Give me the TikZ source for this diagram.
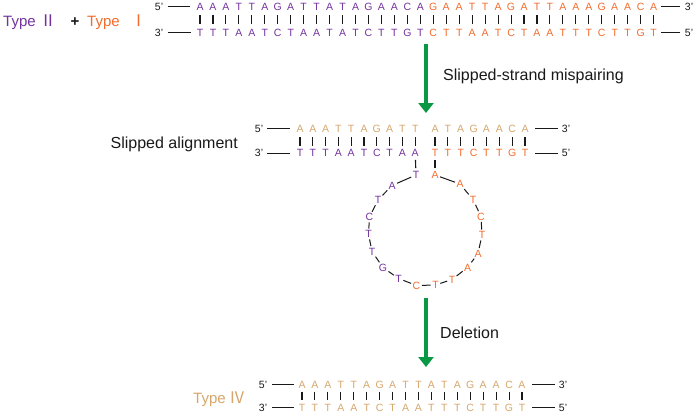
\documentclass[tikz,border=0pt]{standalone}
\usepackage{fontspec}
\setmainfont{Liberation Sans}
\newfontfamily\cjk{Noto Sans CJK SC}
\usetikzlibrary{arrows.meta}
\definecolor{pur}{RGB}{116,50,160}
\definecolor{org}{RGB}{242,108,45}
\definecolor{tan}{RGB}{214,166,108}
\definecolor{grn}{RGB}{10,152,68}
\definecolor{ink}{RGB}{25,25,25}
\begin{document}
\begin{tikzpicture}[x=1pt,y=-1pt,
  nt/.style={inner sep=0pt, text height=7.5pt, text depth=0pt, font=\fontsize{10.5}{12}\selectfont},
  pr/.style={inner sep=0pt, text height=7.5pt, text depth=0pt, font=\fontsize{10.5}{12}\selectfont, text=ink},
  bar/.style={draw=ink, line width=1.1pt},
  endl/.style={draw=ink, line width=0.9pt},
  lk/.style={draw=ink, line width=1pt, shorten <=1.5pt, shorten >=1.5pt},
  lab/.style={inner sep=0pt, text=ink, font=\fontsize{16}{19}\selectfont},
  tlab/.style={inner sep=0pt, font=\fontsize{15}{18}\selectfont},
  garrow/.style={draw=grn, line width=3.5pt, -{Triangle[width=15pt,length=10pt]}}
]
\useasboundingbox (0,0) rectangle (700,418);

% ---------- Top block: Type II + Type I ----------
\node[tlab, text=pur, anchor=base west] (tyA) at (3,26) {Type};
\node[tlab, text=pur, anchor=base] (nII) at (48,26.5) {\fontsize{16}{18}\cjk Ⅱ};
\node[tlab, text=ink, anchor=base] (plus) at (75,26) {\bfseries +};
\node[tlab, text=org, anchor=base west] (tyB) at (87,26) {Type};
\node[tlab, text=org, anchor=base] (nI) at (138.5,26.5) {\fontsize{16}{18}\cjk Ⅰ};

\foreach \L [count=\i] in {A,A,A,T,T,A,G,A,T,T,A,T,A,G,A,A,C,A}
  \node[nt,text=pur] (ta\i) at ({200+12.96*(\i-1)},6.5) {\L};
\foreach \L [count=\i from 19] in {G,A,A,T,T,A,G,A,T,T,A,A,A,G,A,A,C,A}
  \node[nt,text=org] (ta\i) at ({200+12.96*(\i-1)},6.5) {\L};
\foreach \L [count=\i] in {T,T,T,A,A,T,C,T,A,A,T,A,T,C,T,T,G,T}
  \node[nt,text=pur] (tb\i) at ({200+12.96*(\i-1)},32.5) {\L};
\foreach \L [count=\i from 19] in {C,T,T,A,A,T,C,T,A,A,T,T,T,C,T,T,G,T}
  \node[nt,text=org] (tb\i) at ({200+12.96*(\i-1)},32.5) {\L};
\foreach \i in {1,...,36}
  \draw[bar, shorten <=5pt, shorten >=4.6pt] (ta\i) -- (tb\i);

\node[pr] (t5a) at (159,6.5) {5’};
\node[pr] (t3a) at (159,32.5) {3’};
\node[pr] (t3b) at (689,6.5) {3’};
\node[pr] (t5b) at (689,32.5) {5’};
\draw[endl, shorten <=4.5pt, shorten >=6pt] (t5a) -- (ta1);
\draw[endl, shorten <=4.5pt, shorten >=6pt] (t3a) -- (tb1);
\draw[endl, shorten <=4pt, shorten >=5pt] (ta36) -- (t3b);
\draw[endl, shorten <=4pt, shorten >=5pt] (tb36) -- (t5b);

% ---------- Arrow 1 ----------
\coordinate (a1s) at (426,44);
\coordinate (a1e) at (426,113);
\draw[garrow] (a1s) -- (a1e);
\node[lab, anchor=base west] (mis) at (443,80) {Slipped-strand mispairing};

% ---------- Slipped alignment ----------
\node[lab, anchor=base east] (sal) at (238,148) {Slipped alignment};
\foreach \L [count=\i] in {A,A,A,T,T,A,G,A,T,T}
  \node[nt,text=tan] (sa\i) at ({300+12.8*(\i-1)},128.5) {\L};
\foreach \L [count=\i from 11] in {A,T,A,G,A,A,C,A}
  \node[nt,text=tan] (sa\i) at ({435+12.86*(\i-11)},128.5) {\L};
\foreach \L [count=\i] in {T,T,T,A,A,T,C,T,A,A}
  \node[nt,text=pur] (sb\i) at ({300+12.8*(\i-1)},153) {\L};
\foreach \L [count=\i from 11] in {T,T,T,C,T,T,G,T}
  \node[nt,text=org] (sb\i) at ({435+12.86*(\i-11)},153) {\L};
\foreach \i in {1,...,18}
  \draw[bar, shorten <=4.7pt, shorten >=3.2pt] (sa\i) -- (sb\i);

\node[pr] (s5a) at (259,128.5) {5’};
\node[pr] (s3a) at (259,153) {3’};
\node[pr] (s3b) at (566,128.5) {3’};
\node[pr] (s5b) at (566,153) {5’};
\draw[endl, shorten <=4pt, shorten >=6.5pt] (s5a) -- (sa1);
\draw[endl, shorten <=4pt, shorten >=6.5pt] (s3a) -- (sb1);
\draw[endl, shorten <=6.5pt, shorten >=4pt] (sa18) -- (s3b);
\draw[endl, shorten <=6.5pt, shorten >=4pt] (sb18) -- (s5b);

% ---------- Loop ----------
\foreach \L/\x/\y/\c [count=\i] in {
  T/416/175/pur, A/392/185.5/pur, T/378/200/pur, C/369.5/217/pur, T/368.5/234/pur,
  T/372/251.5/pur, G/383/267.5/pur, T/398.5/278.5/pur,
  C/416.5/285.5/org, T/435.5/285/org, T/452/279.5/org, A/467.5/267.5/org,
  A/478/253.5/org, T/482/235/org, C/481/216.5/org, T/473/199.5/org,
  A/460/184/org, A/435/175/org}
  \node[nt,text=\c] (lp\i) at (\x,\y) {\L};
\foreach \i in {1,...,17}{
  \pgfmathtruncatemacro\j{\i+1}
  \draw[lk] (lp\i) -- (lp\j);
}
\draw[bar, shorten <=3pt, shorten >=3pt] (sb10) -- (lp1);
\draw[bar, shorten <=3pt, shorten >=3pt] (sb11) -- (lp18);

% ---------- Arrow 2 ----------
\coordinate (a2s) at (426,298);
\coordinate (a2e) at (426,367);
\draw[garrow] (a2s) -- (a2e);
\node[lab, anchor=base west] (del) at (440,338) {Deletion};

% ---------- Type IV ----------
\node[tlab, text=tan, anchor=base west] (tyC) at (193,403) {Type};
\node[tlab, text=tan, anchor=base] (nIV) at (237,403.5) {\fontsize{16}{18}\cjk Ⅳ};
\foreach \L [count=\i] in {A,A,A,T,T,A,G,A,T,T,A,T,A,G,A,A,C,A}
  \node[nt,text=tan] (da\i) at ({302+12.94*(\i-1)},384.5) {\L};
\foreach \L [count=\i] in {T,T,T,A,A,T,C,T,A,A,T,T,T,C,T,T,G,T}
  \node[nt,text=tan] (db\i) at ({302+12.94*(\i-1)},407.5) {\L};
\foreach \i in {1,...,18}
  \draw[bar, shorten <=3.4pt, shorten >=3.7pt] (da\i) -- (db\i);

\node[pr] (d5a) at (263,384.5) {5’};
\node[pr] (d3a) at (263,407.5) {3’};
\node[pr] (d3b) at (563,384.5) {3’};
\node[pr] (d5b) at (563,407.5) {5’};
\draw[endl, shorten <=5pt, shorten >=4.7pt] (d5a) -- (da1);
\draw[endl, shorten <=5pt, shorten >=4.7pt] (d3a) -- (db1);
\draw[endl, shorten <=6.5pt, shorten >=4pt] (da18) -- (d3b);
\draw[endl, shorten <=6.5pt, shorten >=4pt] (db18) -- (d5b);
\end{tikzpicture}
\end{document}
